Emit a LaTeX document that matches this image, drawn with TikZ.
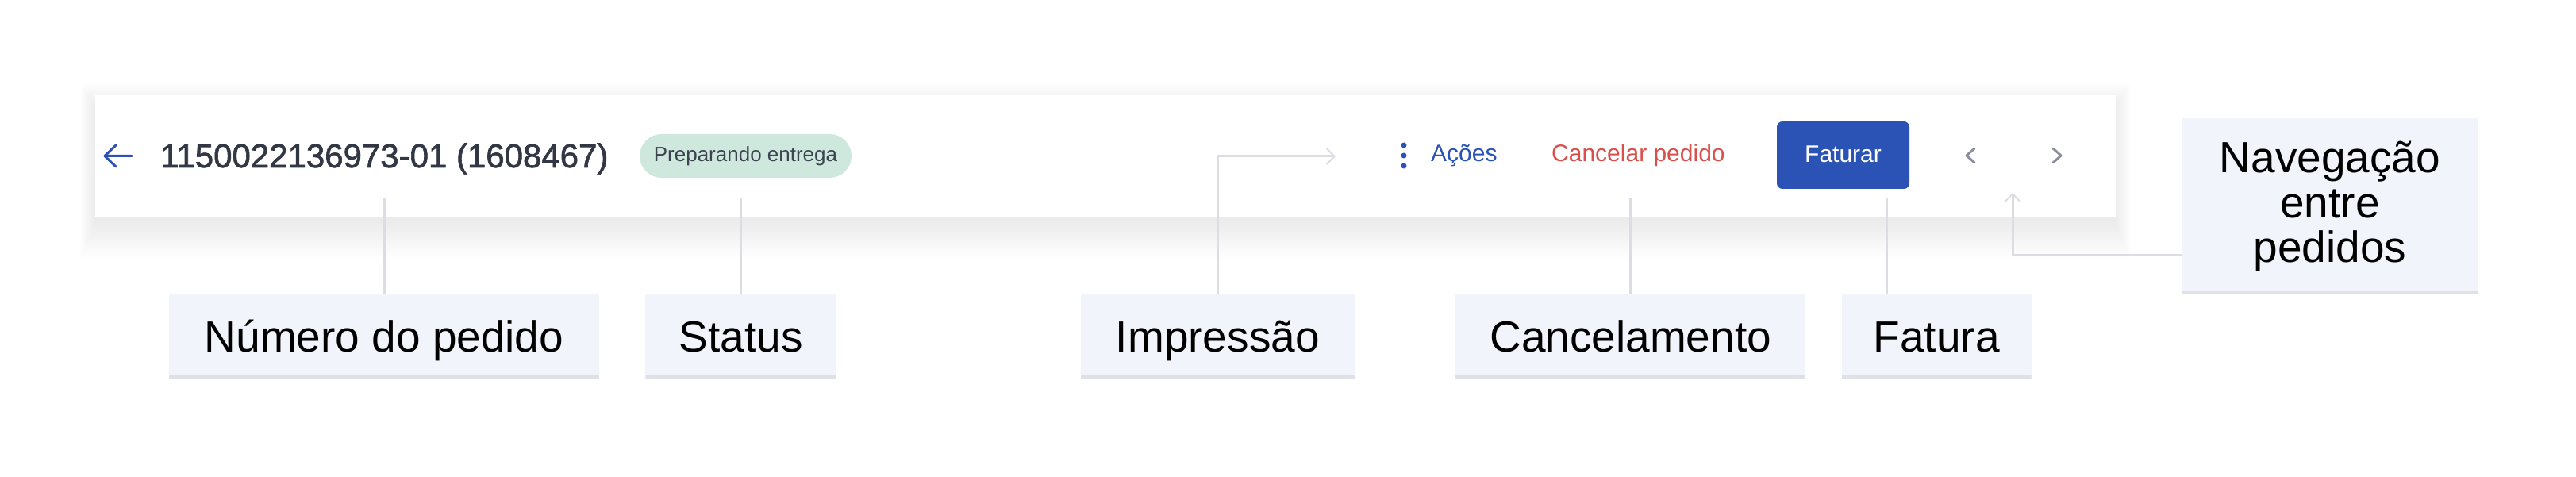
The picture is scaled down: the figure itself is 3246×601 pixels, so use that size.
\documentclass[tikz,border=0pt]{standalone}
\usepackage{fontspec}
\setmainfont{Liberation Sans}
\newfontfamily\orderfont[FakeBold=1.5]{Liberation Sans}
\usetikzlibrary{arrows.meta,positioning}
\definecolor{cardtext}{HTML}{323744}
\definecolor{uiblue}{HTML}{2A53B5}
\definecolor{uired}{HTML}{D94F4C}
\definecolor{pillgreen}{HTML}{CFE8DE}
\definecolor{pilltext}{HTML}{3D4350}
\definecolor{chevgray}{HTML}{8A8F9B}
\definecolor{linegray}{HTML}{DCDDE3}
\definecolor{boxfill}{HTML}{F1F4FB}
\definecolor{boxline}{HTML}{DFE1E7}
\begin{document}
\begin{tikzpicture}[x=1pt, y=-1pt,
    labelbox/.style={fill=boxfill, minimum height=106pt, inner sep=0pt,
      font=\fontsize{55}{56.5}\selectfont,
      path picture={\fill[boxline] (path picture bounding box.south west)
        rectangle ([yshift=4pt]path picture bounding box.south east);}},
    oneline/.style={text height=39.4pt, text depth=1.4pt},
    conn/.style={draw=linegray, line width=3pt},
    pointer/.style={-{Straight Barb[length=10pt, width=20pt, line width=2pt]}},
    ui/.style={inner sep=0pt, anchor=base west, font=\fontsize{30}{32}\selectfont},
    icon/.style={line width=3pt, line cap=round, line join=round}]
  \fill[white] (0,0) rectangle (3246,601);
  \useasboundingbox (0,0) rectangle (3246,601);

  % card with its soft shadow
  \foreach \s in {0,2,...,38}
    \fill[black, opacity=0.003] (120-0.5*\s,135-0.8*\s) rectangle (2666+0.5*\s,280+1.2*\s);
  \fill[white] (120,120) rectangle (2666,273);

  % header of the order
  \draw[icon, uiblue] (166,196.5) -- (132,196.5) (146,183) -- (132,196.5) -- (146,210);
  \node[ui, font=\orderfont\fontsize{42}{44}\selectfont, text=cardtext] (order) at (202,211)
    {1150022136973-01 (1608467)};
  \node[fill=pillgreen, rounded corners=27.5pt, minimum width=267pt, minimum height=55pt,
    inner sep=0pt, text=pilltext, font=\fontsize{26}{28}\selectfont,
    text height=18.6pt, text depth=5.5pt] (pill) at (939.5,196.5) {Preparando entrega};
  \foreach \y in {183,196,209}
    \fill[uiblue] (1769,\y) circle[radius=3.5pt];
  \node[ui, text=uiblue] (acoes) at (1803,204) {Ações};
  \node[ui, text=uired] (cancelar) at (1955,204) {Cancelar pedido};
  \node[fill=uiblue, rounded corners=7pt, minimum width=167pt, minimum height=85pt,
    inner sep=0pt, text=white, font=\fontsize{30}{32}\selectfont,
    text height=21.5pt, text depth=4pt] (faturar) at (2322.5,195.5) {Faturar};
  \draw[icon, chevgray] (2488,187) -- (2478,196) -- (2488,205);
  \draw[icon, chevgray] (2587,187) -- (2597,196) -- (2587,205);

  % callouts
  \node[labelbox, oneline, minimum width=542pt] (num) at (484,424) {Número do pedido};
  \node[labelbox, oneline, minimum width=241pt, right=58pt of num] (status) {Status};
  \node[labelbox, oneline, minimum width=345pt, right=307pt of status] (imp) {Impressão};
  \node[labelbox, oneline, minimum width=441pt, right=127pt of imp] (canc) {Cancelamento};
  \node[labelbox, oneline, minimum width=239pt, right=45pt of canc] (fat) {Fatura};
  \node[labelbox, minimum width=374pt, minimum height=222pt, align=center] (nav)
    at (2936,260) {Navegação\\entre\\pedidos};

  \coordinate (imptip) at (1683,197);
  \coordinate (fattip) at (2377,250);
  \coordinate (navtip) at (2536,243);

  \draw[conn] (num.north) -- +(0,-121);
  \draw[conn] (status.north) -- +(0,-121);
  \draw[conn, pointer] (imp.north) |- (imptip);
  \draw[conn] (canc.north) -- +(0,-121);
  \draw[conn] (fat.north -| fattip) -- (fattip);
  \draw[conn, pointer] ([yshift=-62pt]nav.west) -| (navtip);
\end{tikzpicture}
\end{document}
